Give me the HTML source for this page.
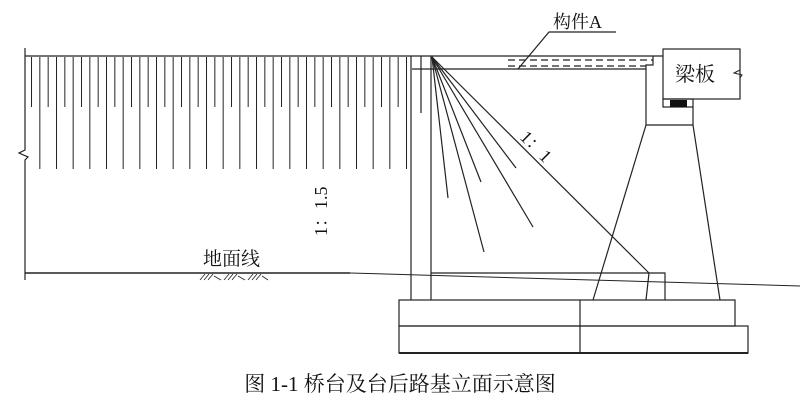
<!DOCTYPE html>
<html><head><meta charset="utf-8"><style>
body{margin:0;background:#fff}
svg{display:block}
text{font-family:"Liberation Serif","Noto Serif CJK SC",serif;fill:#111}
</style></head><body>
<svg width="800" height="408" viewBox="0 0 800 408" xmlns="http://www.w3.org/2000/svg">
<defs>
<pattern id="ps" x="31" y="0" width="16.667" height="408" patternUnits="userSpaceOnUse">
<line x1="0.5" y1="0" x2="0.5" y2="408" stroke="#222" stroke-width="1"/>
</pattern>
<pattern id="pl" x="39.33" y="0" width="16.667" height="408" patternUnits="userSpaceOnUse">
<line x1="0.5" y1="0" x2="0.5" y2="408" stroke="#222" stroke-width="1"/>
</pattern>
</defs>
<g stroke="#222" stroke-width="1.2" fill="none">
<rect x="30" y="57" width="379" height="50" fill="url(#ps)" stroke="none"/>
<rect x="30" y="57" width="379" height="112" fill="url(#pl)" stroke="none"/>
<polyline points="25,48 25,150 19,153 28,157 25,160 25,280"/>
<line x1="25" y1="56" x2="663" y2="56"/>
<line x1="411" y1="56" x2="411" y2="300"/>
<line x1="421" y1="56" x2="421" y2="113"/>
<line x1="431" y1="56" x2="431" y2="300"/>
<line x1="412" y1="69" x2="646" y2="69"/>
<polyline points="646,69 646,65 653,65 653,56"/>
<line x1="508" y1="60" x2="653" y2="60" stroke-dasharray="7,4"/>
<line x1="508" y1="66" x2="646" y2="66" stroke-dasharray="7,4"/>
<polyline points="616,32 549,32 518,69"/>
<rect x="663" y="49" width="77" height="50"/>
<polyline points="740,70 734,73 742,75 740,78" stroke-width="1"/>
<rect x="663" y="99" width="30" height="8"/>
<rect x="670" y="100" width="17" height="7" fill="#111" stroke="none"/>
<line x1="646" y1="69" x2="646" y2="125"/>
<line x1="693" y1="107" x2="693" y2="125"/>
<line x1="646" y1="125" x2="693" y2="125"/>
<line x1="646" y1="125" x2="593" y2="300"/>
<line x1="693" y1="125" x2="720" y2="300"/>
<line x1="432" y1="57" x2="448" y2="198"/>
<line x1="432" y1="57" x2="484" y2="252"/>
<line x1="432" y1="57" x2="481" y2="182"/>
<line x1="432" y1="57" x2="533" y2="227"/>
<line x1="432" y1="57" x2="516" y2="168"/>
<line x1="432" y1="57" x2="649" y2="273"/>
<line x1="649" y1="273" x2="646" y2="300"/>
<polyline points="431,273 665,273 665,300"/>
<line x1="25" y1="273" x2="350" y2="273" stroke-width="1.5"/>
<line x1="350" y1="273" x2="800" y2="286" stroke-width="1"/>
<g stroke-width="0.8">
<line x1="200" y1="280" x2="205" y2="274"/><line x1="204" y1="280" x2="209" y2="274"/><line x1="208" y1="280" x2="213" y2="274"/><line x1="214" y1="276" x2="221" y2="280"/>
<line x1="224" y1="280" x2="229" y2="274"/><line x1="228" y1="280" x2="233" y2="274"/><line x1="232" y1="280" x2="237" y2="274"/><line x1="238" y1="276" x2="245" y2="280"/>
<line x1="248" y1="280" x2="253" y2="274"/><line x1="252" y1="280" x2="257" y2="274"/><line x1="256" y1="280" x2="261" y2="274"/><line x1="262" y1="276" x2="268" y2="280"/>
</g>
<rect x="399" y="300" width="336" height="26"/>
<rect x="399" y="326" width="349" height="27"/>
<line x1="399" y1="353" x2="748" y2="353" stroke-width="2"/>
<line x1="580" y1="300" x2="580" y2="353"/>
</g>
<text x="553" y="28" font-size="18">构件A</text>
<text x="675" y="81" font-size="20">梁板</text>
<text x="203" y="265" font-size="19">地面线</text>
<text transform="translate(327,236) rotate(-90)" font-size="18">1：1.5</text>
<text transform="translate(519,138) rotate(45)" font-size="18">1：1</text>
<text x="400" y="391" font-size="21" text-anchor="middle" style="font-family:'Liberation Serif','Noto Serif CJK SC',serif">图 1-1 桥台及台后路基立面示意图</text>
</svg>
</body></html>
